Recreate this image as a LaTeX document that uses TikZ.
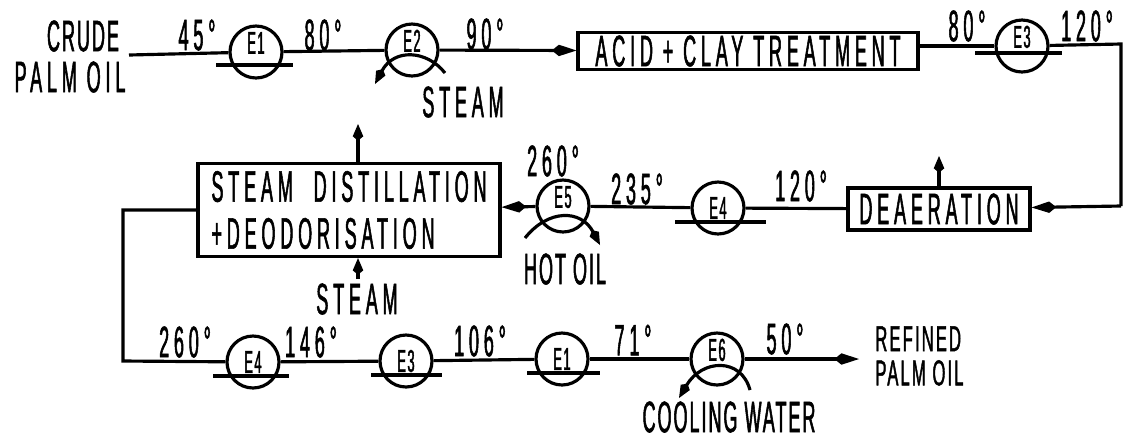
\documentclass[tikz,border=0pt]{standalone}
\usepackage{fontspec}
\usepackage{tikz}
\usetikzlibrary{arrows.meta}
\newfontfamily\flowfont[FakeStretch=0.41,FakeBold=1.2,LetterSpace=11]{Liberation Sans}
\newfontfamily\tightfont[FakeStretch=0.41,FakeBold=1.2,LetterSpace=4.5]{Liberation Sans}
\newfontfamily\widefont[FakeStretch=0.46,FakeBold=1.2,LetterSpace=6]{Liberation Sans}
\tikzset{
  flowline/.style={line width=1.8pt},
  flowtip/.style={-{Kite[length=14pt,width=6.5pt,inset=4pt]}},
  venttip/.style={-{Kite[length=9.5pt,width=6pt,inset=2.5pt]}},
  txt/.style={font=\flowfont\fontsize{25}{26.7}\selectfont, inner sep=0pt, align=center},
  tight/.style={font=\tightfont\fontsize{25}{26.7}\selectfont, inner sep=0pt, align=center},
  tightsmall/.style={font=\widefont\fontsize{20.5}{19.5}\selectfont, inner sep=0pt, align=left},
  exch/.style={draw, circle, line width=1.8pt, minimum size=1.04cm, inner sep=0pt, font=\tightfont\fontsize{18}{18}\selectfont},
  unit/.style={draw, line width=1.8pt, inner sep=0pt, font=\flowfont\fontsize{25}{26.7}\selectfont},
}
\newcommand{\upper}[1]{\raisebox{-1pt}[0pt][0pt]{#1}}
\begin{document}
\begin{tikzpicture}[x=0.02cm, y=-0.02cm]
\useasboundingbox (0,0) rectangle (1124,441);
% top row
\node[tight] (crude) at (83,36) {CRUDE};
\node[txt] (palm) at (70,77) {PALM OIL};
\coordinate (feed) at (129,55);
\node[exch] (eone) at (256,52) {\upper{E1}};
\node[exch] (etwo) at (412,50) {\upper{E2}};
\node[unit, minimum width=6.8cm, minimum height=0.74cm] (acid) at (748,51) {ACID + CLAY TREATMENT};
\node[exch] (ethree) at (1022,46) {\upper{E3}};
\node[txt] (ta) at (197,35) {45°};
\node[txt] (tb) at (323,35) {80°};
\node[txt] (tc) at (485,34) {90°};
\node[txt] (td) at (967,26) {80°};
\node[txt] (te) at (1087,26) {120°};
\node[txt] (steama) at (463,102) {STEAM};
\draw[flowline] (feed) -- (eone);
\draw[flowline] (eone) -- (etwo);
\draw[flowline, flowtip] (etwo) -- (acid);
\draw[flowline] (acid.east |- ethree) -- (ethree);
% middle row
\coordinate (corner) at (1121,44);
\coordinate (cornerb) at (1121,206);
\node[unit, minimum width=3.64cm, minimum height=0.84cm] (deaer) at (939,209) {DEAERATION};
\node[exch] (efour) at (718,208) {E4};
\node[exch] (efive) at (563,206) {\upper{E5}};
\node[unit, minimum width=6.04cm, minimum height=1.86cm, align=left] (still) at (349,210) {STEAM\hspace{0.25em} DISTILLATION\\+DEODORISATION};
\coordinate (venta) at (939,156);
\coordinate (ventb) at (358,124);
\coordinate (inb) at (358,279);
\node[txt] (tf) at (553,161) {260°};
\node[txt] (tg) at (637,189) {235°};
\node[txt] (th) at (801,186) {120°};
\node[tight] (hot) at (565,269) {HOT OIL};
\node[txt] (steamb) at (357,299) {STEAM};
\draw[flowline] (ethree) -- (corner) -- (cornerb);
\draw[flowline, flowtip] (cornerb) -- (deaer);
\draw[flowline] (deaer) -- (efour);
\draw[flowline] (efour) -- (efive);
\draw[flowline, flowtip] (efive) -- (still);
\draw[flowline, venttip] (deaer) -- (venta);
\draw[flowline, venttip] (still.north -| ventb) -- (ventb);
\draw[flowline, venttip] (inb) -- (still.south -| inb);
% bottom row
\coordinate (backa) at (123,210);
\coordinate (backb) at (123,361);
\node[exch] (esix) at (253,362) {E4};
\node[exch] (eseven) at (406,361) {E3};
\node[exch] (eeight) at (562,359) {E1};
\node[exch] (enine) at (717,359) {\upper{E6}};
\coordinate (out) at (859,359);
\node[txt] (ti) at (185,342) {260°};
\node[txt] (tj) at (311,342) {146°};
\node[txt] (tk) at (480,341) {106°};
\node[txt] (tl) at (633,340) {71°};
\node[txt] (tm) at (785,339) {50°};
\node[tightsmall, anchor=west] (refined) at (875,356) {REFINED\\PALM OIL};
\node[tight] (cool) at (729,417) {COOLING WATER};
\draw[flowline] (still.west |- backa) -- (backa) -- (backb) -- (esix);
\draw[flowline] (esix) -- (eseven);
\draw[flowline] (eseven) -- (eeight);
\draw[flowline] (eeight) -- (enine);
\draw[flowline, flowtip] (enine) -- (out);
% shell lines under the exchangers
\draw[flowline] ([shift={(-40,13)}]eone.center) -- ([shift={(37,13)}]eone.center);
\draw[flowline] ([shift={(-47,7)}]ethree.center) -- ([shift={(40,7)}]ethree.center);
\draw[flowline] ([shift={(-43,14)}]efour.center) -- ([shift={(48,14)}]efour.center);
\draw[flowline] ([shift={(-40,14)}]esix.center) -- ([shift={(36,14)}]esix.center);
\draw[flowline] ([shift={(-35,14)}]eseven.center) -- ([shift={(36,14)}]eseven.center);
\draw[flowline] ([shift={(-35,14)}]eeight.center) -- ([shift={(38,14)}]eeight.center);
% heating and cooling coils
\draw[flowline, venttip] ([shift={(33,23)}]etwo.center) .. controls ([shift={(15,0)}]etwo.center) and ([shift={(-18,-2)}]etwo.center) .. ([shift={(-37,34)}]etwo.center);
\draw[flowline, venttip] ([shift={(-38,32)}]efive.center) .. controls ([shift={(-15,3)}]efive.center) and ([shift={(18,3)}]efive.center) .. ([shift={(37,39)}]efive.center);
\draw[flowline, venttip] ([shift={(33,31)}]enine.center) .. controls ([shift={(24,-2)}]enine.center) and ([shift={(-15,0)}]enine.center) .. ([shift={(-38,39)}]enine.center);
\end{tikzpicture}
\end{document}
